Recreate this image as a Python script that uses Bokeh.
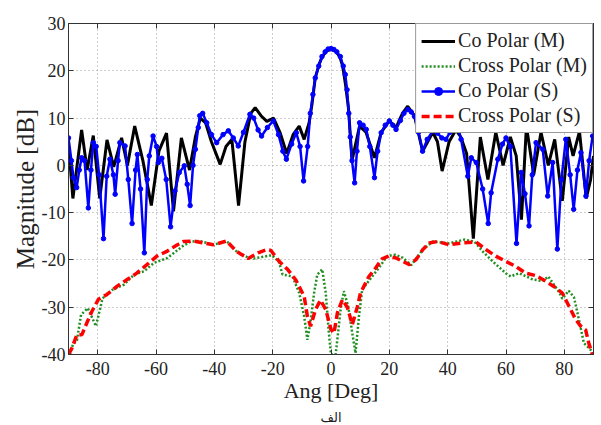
from bokeh.plotting import figure
from bokeh.models import Range1d, LinearAxis, FixedTicker, Legend, LegendItem, Title
from bokeh.embed import file_html
from bokeh.resources import INLINE

# ---- data ----
co_m_ang = [-90, -88.5, -85.5, -83.6, -81.5, -79.3, -76.8, -74.5, -71.8, -69.8, -67.3, -64.5, -61.6, -59, -56.4,
            -54, -51.3, -48.5, -46.5, -44.8, -43, -41, -38, -36, -34, -31.7, -29.5, -27.5, -26, -24, -22, -19.7,
            -17.5, -15.2, -13, -10.9, -9.2, -7.5, -6.5, -5.4, -4, -3, -1.5, 0, 1.5, 3, 4, 5, 6, 7.2, 9.8, 12,
            14.9, 17.2, 20, 22.3, 24.5, 26.3, 28.6, 31.4, 34.9, 36.5, 38.1, 40.5, 42.8, 44.5, 46.5, 48.8, 51.2,
            53.8, 56.5, 59, 61.5, 63.5, 65.3, 67, 69.5, 72, 74.5, 76.7, 79.3, 81.5, 83, 85.2, 87.5, 89, 90]
co_m_db = [4.5, -7, 7.5, -1, 6.3, -7, 5.4, -0.3, 5.8, 0, 8.3, 1, -8.5, 3, 6.8,
           -9.7, 5.8, -1, 6, 10, 9, 5, 0.2, 4, 5.5, -8.5, 5, 11, 12.2, 10.5, 9.3, 10,
           7, 2.5, 6.5, 8.3, 5.5, 9, 13, 18.5, 21.5, 23, 24.2, 24.5, 24.2, 23, 21, 17, 12, 1, 8.3, 7,
           1.6, 7, 9.4, 8, 11, 12.5, 10.5, 3, 7, 5, -1.2, 5, 7.5, 6, 2.5, -15.5, 6,
           -3, 7, 0, 6, 2, -11.5, 8.3, -2, 7, 0, 5.5, -7.5, 6, 2, 7.2, -7, -3, 2]

cross_m_ang = [-89.5, -88.5, -87.1, -85.7, -83.4, -80.6, -78.3, -74.9, -70.9, -67.5, -64.1, -60.6, -56.1, -50.9,
               -48.1, -45, -40.3, -35.8, -32.4, -28.4, -26.5, -23, -20.2, -17.9, -16.6, -13.2, -10.9, -9.2, -8.1,
               -7, -5.8, -4.7, -3, -1.8, -0.8, 0, 1.6, 3.3, 4.4, 5.9, 7.3, 8.4, 9.6, 10.7, 14.1, 16.4, 19.2, 22.1,
               24.5, 27.5, 31.5, 34.9, 40.5, 45.7, 49.1, 52, 55.4, 59.9, 61.6, 64.5, 69.1, 72.5, 74.5, 78.2, 79.3,
               81.5, 83.3, 85, 86.7, 87.9, 89, 90]
cross_m_db = [-40, -37.9, -37, -31.6, -30.2, -34, -28.1, -26.3, -25.2, -23.1, -22.4, -20.6, -19.6, -17.1,
              -16.1, -16, -16.8, -16, -18.2, -19.5, -19.7, -19.3, -19, -20.4, -23.1, -23.5, -27, -31.9, -36.9,
              -33, -27, -23.1, -22, -27, -35, -40, -40, -30.5, -26.6, -29.8, -35.5, -39.7, -31.9, -26.3, -23.5,
              -21.7, -19.2, -18.9, -19.5, -21.1, -17.8, -16.1, -16.5, -15.7, -16.1, -18.2, -20.3, -22.8, -23.5,
              -22.8, -24.1, -24.5, -23.5, -26.8, -28.2, -26.5, -27.9, -32.6, -37.6, -38.3, -39, -40]

co_s_ang = [-90, -89, -88.3, -87.2, -86.3, -85.5, -84.5, -83.2, -82.3, -81.5, -80.5, -79.5, -78, -76.9, -75.8,
            -74.6, -74, -73, -72.4, -70.6, -69.5, -68.2, -67, -66.4, -65.3, -64, -63, -62.3, -61, -59.8, -59.2,
            -58, -56.5, -55, -53.5, -52, -50.3, -49.3, -48.3, -47.3, -46.5, -45.5, -45, -44, -42.6, -41, -39.2,
            -37, -35.2, -33.5, -31.8, -30, -27.8, -26.5, -25, -23.8, -21.8, -19.8, -18, -16.5, -15.3, -13.5,
            -11.9, -10.6, -9.4, -8, -7.1, -6.2, -5.4, -4.2, -3.1, -2, -1, 0, 1, 2, 3.2, 4.2, 4.9, 5.5, 6.1, 6.6,
            7.2, 8.1, 8.9, 9.8, 11, 12.1, 13.3, 14.9, 16, 17.2, 18.6, 20, 21.2, 22.3, 23.8, 25, 26.3, 27.5, 28.6,
            30, 31.4, 33, 34.9, 36.5, 38, 39.4, 40.8, 42.3, 43.5, 44.6, 46.9, 48.1, 49.8, 52, 53.9, 54.9, 57.2,
            58.8, 60, 61.5, 63.6, 65.2, 66.5, 67.9, 69, 70.3, 72.6, 74.3, 76, 77.6, 79, 80.5, 82, 83.2, 84.5,
            85.7, 87.4, 88.5, 89.7]
co_s_db = [5.8, 1, -2.6, -4.7, -1, 1.6, 1, -9, -1, 4.8, 4, -2, -15.5, -2.3, 1.3,
           -2, -6.1, 1, 4.8, 4.1, -3, -12.3, -1, 2.3, -5, -18.5, -3, 2, 6.2, 4, 0.6,
           1.5, -3, -13, -5.4, -1.5, -0.1, -4, -8.5, 0, 3.4, 8, 10.5, 11, 9, 6.5, 4.8,
           6.5, 7.3, 5.8, 4.1, 7, 10.8, 10, 7.5, 6.2, 8, 9.4, 6.5, 3, 1.3, 4.5,
           6.9, 4, -3.3, 4, 11, 15, 18.5, 21, 23, 24, 24.6, 24.7, 24.5, 24, 23, 21, 19.2, 16, 11, 6,
           1, -3.7, 3, 9, 8.5, 7.6, 4, -2.6, 3, 6.9, 8.5, 9.4, 8.5, 7.6, 9.5, 11, 11.8, 11.3, 10.4,
           7, 3, 5.5, 7.3, 6.8, 5.8, 5.5, 7, 8, 8.3, 5.5, -2.3, 1.6, 0.6, -5, -12.3, -5.8, 1.3,
           4.5, 5.8, 4, -16.5, -1.5, -6, -12.8, -2, 4.8, 3.4, -6.5, 0.6, -17.7, -3, 5.5, -2, -9.3, -1,
           2.7, -6.5, 1, 6.2]

cross_s_ang = [-90, -88.8, -87.1, -85.4, -83.7, -82, -79.7, -76.8, -73.4, -70, -66.6, -63.1, -59.7, -56.3, -53.5,
               -50.6, -47.2, -43.8, -40.3, -35.8, -32.4, -28.4, -25, -22, -20.6, -17.8, -14.9, -12.1, -9.2, -8.1,
               -7, -5.3, -3.6, -1.8, 0, 1, 2.2, 3.9, 5.6, 7.3, 9, 10.1, 13, 15.3, 17.5, 19.8, 22.3, 24.6, 26.9,
               29.2, 31.5, 33.7, 36.6, 40.5, 45.1, 49.7, 53.1, 56.5, 59.9, 63.4, 66.8, 70.2, 73.6, 76.4, 79.3,
               81.6, 83.9, 85.6, 87.3, 88.4, 89.6]
cross_s_db = [-40, -38.6, -35.8, -35.8, -33.3, -30.9, -28.3, -27.3, -25.6, -24.2, -22.8, -21, -19.2, -18.2, -17.1,
              -16.1, -16, -16.4, -16.8, -16, -18.2, -19.7, -18.5, -17.8, -18, -20.3, -22, -24.2, -27.7, -31.9,
              -34, -30.5, -28.5, -30.5, -34.7, -35.5, -31.2, -28.4, -30, -33.7, -30, -27, -23.5, -21.7, -19.8,
              -19.2, -19.6, -20.3, -21, -19.9, -17.8, -16.4, -16.1, -16.8, -16.4, -16.2, -17.8, -19.2, -20.3,
              -21.4, -22.8, -23.3, -24.5, -25.6, -27, -29.8, -32.6, -34, -34.8, -37.6, -40]

x_ticks = [-80, -60, -40, -20, 0, 20, 40, 60, 80]
y_ticks = [-40, -30, -20, -10, 0, 10, 20, 30]

SERIF = "Liberation Serif"
AXC = "#333333"

p = figure(frame_width=525, frame_height=331, output_backend="svg", toolbar_location=None,
           x_range=Range1d(-90, 90), y_range=Range1d(-40, 30),
           min_border_left=68, min_border_right=8, min_border_top=23, min_border_bottom=0,
           background_fill_color="white", border_fill_color="white")

p.outline_line_color = AXC

for ax, ticks in ((p.xaxis[0], x_ticks), (p.yaxis[0], y_ticks)):
    ax.ticker = FixedTicker(ticks=ticks)
    ax.major_label_overrides = {t: str(t) for t in ticks}
    ax.major_label_text_font = SERIF
    ax.major_label_text_font_size = "18px"
    ax.major_label_text_color = "#222222"
    ax.axis_label_text_font = SERIF
    ax.axis_label_text_font_style = "normal"
    ax.axis_label_text_color = "#222222"
    ax.axis_line_color = AXC
    ax.major_tick_in = 5
    ax.major_tick_out = 0
    ax.major_tick_line_color = AXC
    ax.minor_tick_line_color = None

p.xaxis.axis_label = "Ang [Deg]"
p.yaxis.axis_label = "Magnitude [dB]"
p.xaxis.axis_label_text_font_size = "22px"
p.yaxis.axis_label_text_font_size = "25px"
p.xaxis.major_label_standoff = 7
p.yaxis.major_label_standoff = 3
p.xaxis.axis_label_standoff = 0
p.yaxis.axis_label_standoff = 0

top = LinearAxis(ticker=FixedTicker(ticks=x_ticks), major_label_overrides={t: "" for t in x_ticks},
                 major_tick_in=5, major_tick_out=0, minor_tick_line_color=None,
                 axis_line_color=AXC, major_tick_line_color=AXC, major_label_standoff=0)
right = LinearAxis(ticker=FixedTicker(ticks=y_ticks), major_label_overrides={t: "" for t in y_ticks},
                   major_tick_in=5, major_tick_out=0, minor_tick_line_color=None,
                   axis_line_color=AXC, major_tick_line_color=AXC, major_label_standoff=0)
p.add_layout(top, "above")
p.add_layout(right, "right")

p.grid.grid_line_color = "#9a9a9a"
p.grid.grid_line_dash = "1 3"
p.grid.grid_line_width = 1

r_black = p.line(co_m_ang, co_m_db, line_color="black", line_width=3)
r_green = p.line(cross_m_ang, cross_m_db, line_color="#1f8f1f", line_width=2.5, line_dash="2 2")
r_blue = p.line(co_s_ang, co_s_db, line_color="#0000ff", line_width=2.5)
r_blue_m = p.scatter(co_s_ang, co_s_db, marker="circle", size=4.5, fill_color="#0000ff", line_color="#0000ff")
r_red = p.line(cross_s_ang, cross_s_db, line_color="#ff0000", line_width=3.5, line_dash="8 4")

legend = Legend(items=[
    LegendItem(label="Co Polar (M)", renderers=[r_black]),
    LegendItem(label="Cross Polar (M)", renderers=[r_green]),
    LegendItem(label="Co Polar (S)", renderers=[r_blue, r_blue_m]),
    LegendItem(label="Cross Polar (S)", renderers=[r_red]),
], location="top_right")
legend.label_text_font = SERIF
legend.label_text_font_size = "20px"
legend.label_text_color = "#222222"
legend.glyph_width = 34
legend.glyph_height = 20
legend.label_height = 23
legend.label_standoff = 3
legend.spacing = 2
legend.padding = 5
legend.margin = 0
legend.border_line_color = AXC
legend.border_line_width = 1
legend.background_fill_alpha = 1
p.add_layout(legend)

cap = Title(text="الف", align="center", text_font="DejaVu Sans", text_font_size="13px",
            text_font_style="normal", text_color="#222222", standoff=4, offset=6)
p.add_layout(cap, "below")

open("out.html", "w").write(file_html(p, INLINE))
